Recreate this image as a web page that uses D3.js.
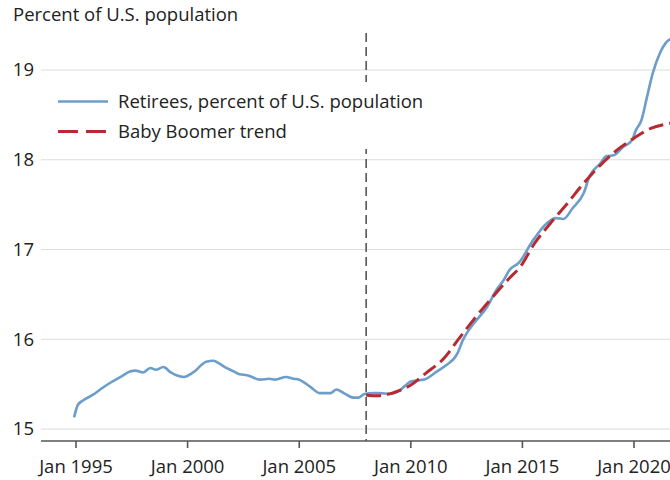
<!DOCTYPE html>
<html>
<head>
<meta charset="utf-8">
<script src="https://cdn.jsdelivr.net/npm/d3@7"></script>
<style>
  body { margin: 0; background: #fff; }
  svg { display: block; font-family: "Open Sans", sans-serif; }
</style>
</head>
<body>
<svg width="670" height="480"></svg>
<script>
// retirees, percent of U.S. population
var retireeDates = ["1994-12","1995-02","1995-05","1995-10","1996-02","1996-07","1997-01","1997-06","1997-09",
  "1998-01","1998-05","1998-08","1998-12","1999-04","1999-11","2000-04","2000-11","2001-03","2001-06","2001-09",
  "2002-02","2002-05","2002-09","2003-04","2003-09","2003-12","2004-06","2004-10","2005-01","2005-07","2005-12",
  "2006-06","2006-09","2007-01","2007-06","2007-09","2007-12","2008-05","2008-08","2009-02","2009-07","2010-01",
  "2010-04","2010-08","2011-03","2011-08","2012-02","2012-05","2012-11","2013-06","2013-11","2014-03","2014-06",
  "2014-11","2015-07","2016-02","2016-07","2016-11","2017-04","2017-10","2018-01","2018-07","2018-10","2019-02",
  "2019-07","2019-12","2020-02","2020-05","2020-08","2020-11","2021-03","2021-06","2021-09"];
var retireeValues = [15.13,15.27,15.32,15.38,15.44,15.51,15.58,15.64,15.65,
  15.63,15.68,15.66,15.69,15.63,15.58,15.63,15.75,15.76,15.73,15.69,
  15.64,15.61,15.60,15.55,15.56,15.55,15.58,15.56,15.55,15.47,15.40,
  15.40,15.44,15.40,15.35,15.35,15.39,15.40,15.40,15.39,15.43,15.53,
  15.54,15.55,15.64,15.71,15.84,15.99,16.18,16.36,16.55,16.66,16.77,
  16.85,17.11,17.29,17.35,17.34,17.46,17.63,17.81,17.96,18.04,18.05,
  18.14,18.22,18.33,18.44,18.70,18.96,19.19,19.30,19.35];

// baby boomer trend
var trendDates = ["2008-01","2008-07","2009-03","2010-01","2010-09","2011-07","2012-03","2012-12","2013-09",
  "2014-06","2014-12","2015-07","2016-04","2017-01","2017-10","2018-07","2019-04","2020-01","2020-10","2021-07","2022-01"];
var trendValues = [15.38,15.37,15.40,15.49,15.62,15.79,16.01,16.25,16.47,
  16.68,16.81,17.05,17.29,17.51,17.74,17.94,18.11,18.24,18.35,18.40,18.42];

var yTicks = [15, 16, 17, 18, 19];
var xTickYears = [1995, 2000, 2005, 2010, 2015, 2020];
var markerDate = "2008-01";
var legendLabels = ["Retirees, percent of U.S. population", "Baby Boomer trend"];

var blue = "#6c9dcb", red = "#b72a32";

var svg = d3.select("svg");
var parse = d3.timeParse("%Y-%m");

var x = d3.scaleTime()
    .domain([new Date(1995, 0, 1), new Date(2020, 0, 1)])
    .range([76, 634]);
var y = d3.scaleLinear()
    .domain([15, 19])
    .range([429, 70]);

var left = 41, right = 690, axisY = 441;

// gridlines
svg.append("g").selectAll("line")
    .data(yTicks)
    .enter().append("line")
    .attr("x1", left)
    .attr("x2", right)
    .attr("y1", function(d) { return y(d); })
    .attr("y2", function(d) { return y(d); })
    .attr("stroke", "#dcdcdc")
    .attr("stroke-width", 1.2);

// y labels
svg.append("g").selectAll("text")
    .data(yTicks)
    .enter().append("text")
    .attr("x", 34)
    .attr("y", function(d) { return y(d); })
    .attr("dy", "0.35em")
    .attr("text-anchor", "end")
    .attr("fill", "#222")
    .style("font-size", "18.5px")
    .text(function(d) { return d; });

// x axis
var xAxis = svg.append("g")
    .attr("transform", "translate(0," + axisY + ")");
xAxis.append("line")
    .attr("x1", left).attr("x2", right)
    .attr("stroke", "#555").attr("stroke-width", 1.6);
var xt = xAxis.selectAll(".tick")
    .data(xTickYears)
    .enter().append("g")
    .attr("transform", function(d) { return "translate(" + x(new Date(d, 0, 1)) + ",0)"; });
xt.append("line").attr("y2", 7).attr("stroke", "#555").attr("stroke-width", 1.6);
xt.append("text")
    .attr("y", 31.5)
    .attr("text-anchor", "middle")
    .attr("fill", "#222")
    .style("font-size", "18.5px")
    .text(function(d) { return "Jan " + d; });

// title
svg.append("text")
    .attr("x", 13)
    .attr("y", 21)
    .attr("fill", "#222")
    .style("font-size", "18.5px")
    .text("Percent of U.S. population");

// vertical dashed marker
svg.append("line")
    .attr("x1", x(parse(markerDate)))
    .attr("x2", x(parse(markerDate)))
    .attr("y1", 33)
    .attr("y2", axisY)
    .attr("stroke", "#555")
    .attr("stroke-width", 1.6)
    .attr("stroke-dasharray", "9,5");

// lines
var retirees = retireeDates.map(function(d, i) { return {date: parse(d), value: retireeValues[i]}; });
var trend = trendDates.map(function(d, i) { return {date: parse(d), value: trendValues[i]}; });

var line = d3.line()
    .curve(d3.curveMonotoneX)
    .x(function(d) { return x(d.date); })
    .y(function(d) { return y(d.value); });

svg.append("path")
    .datum(retirees)
    .attr("fill", "none")
    .attr("stroke", blue)
    .attr("stroke-width", 2.6)
    .attr("stroke-linejoin", "round")
    .attr("d", line);

svg.append("path")
    .datum(trend)
    .attr("fill", "none")
    .attr("stroke", red)
    .attr("stroke-width", 3)
    .attr("stroke-dasharray", "15,6")
    .attr("d", line);

// legend
var legend = svg.append("g");
legend.append("rect")
    .attr("x", 50).attr("y", 82)
    .attr("width", 385).attr("height", 67)
    .attr("fill", "#fff");
legendLabels.forEach(function(lab, i) {
    var row = legend.append("g")
        .attr("transform", "translate(0," + (101.5 + i * 30) + ")");
    row.append("line")
        .attr("x1", 58).attr("x2", 108)
        .attr("stroke", i == 0 ? blue : red)
        .attr("stroke-width", i == 0 ? 2.6 : 3)
        .attr("stroke-dasharray", i == 0 ? null : "20,8");
    row.append("text")
        .attr("x", 118)
        .attr("dy", "0.35em")
        .attr("fill", "#222")
        .style("font-size", "18.5px")
        .text(lab);
});
</script>
</body>
</html>
